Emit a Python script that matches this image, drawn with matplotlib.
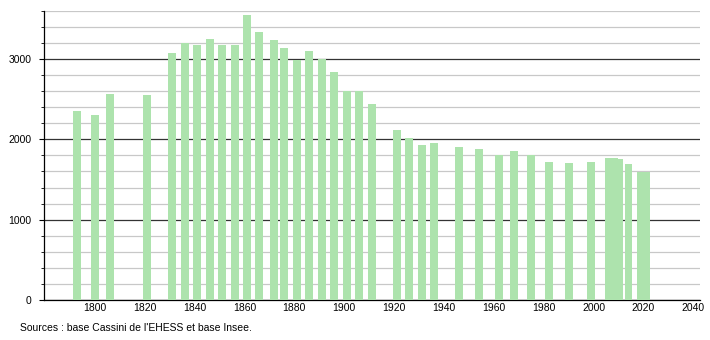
import matplotlib.pyplot as plt
from matplotlib.ticker import MultipleLocator

# census years and population
years = [1793, 1800, 1806, 1821, 1831, 1836, 1841, 1846, 1851, 1856,
         1861, 1866, 1872, 1876, 1881, 1886, 1891, 1896, 1901, 1906,
         1911, 1921, 1926, 1931, 1936, 1946, 1954, 1962, 1968, 1975,
         1982, 1990, 1999, 2006, 2008, 2010, 2014, 2019, 2021]
population = [2350, 2303, 2564, 2552, 3079, 3195, 3174, 3245, 3174, 3174,
              3548, 3340, 3237, 3141, 2988, 3100, 2996, 2838, 2602, 2602,
              2436, 2116, 2021, 1926, 1950, 1909, 1880, 1801, 1855, 1801,
              1718, 1705, 1718, 1765, 1770, 1755, 1693, 1597, 1597]

source = "Sources : base Cassini de l'EHESS et base Insee."

plt.rcParams['font.family'] = ['Liberation Sans', 'DejaVu Sans']

fig = plt.figure(figsize=(7.1, 3.4), dpi=100)
ax = fig.add_axes([0.062, 0.1176, 0.924, 0.8506])

ax.set_xlim(1779.6, 2042.7)
ax.set_ylim(0, 3600)

# grid: light every 200, dark every 1000
ax.yaxis.set_major_locator(MultipleLocator(1000))
ax.yaxis.set_minor_locator(MultipleLocator(200))
ax.grid(which='minor', axis='y', color='#c8c8c8', lw=0.9)
ax.grid(which='major', axis='y', color='#333333', lw=0.9)
ax.set_axisbelow(True)

ax.bar(years, population, width=3.2, color='#ade3ad', zorder=3)

ax.set_xticks(range(1800, 2041, 20))
ax.tick_params(axis='x', length=0, labelsize=7.5, pad=2.5)
ax.tick_params(axis='y', which='major', length=3.6, width=0.8, labelsize=7.5, pad=5.5)
ax.tick_params(axis='y', which='minor', length=2, width=0.6)

for s in ['top', 'right']:
    ax.spines[s].set_visible(False)
ax.spines['left'].set_linewidth(0.9)
ax.spines['bottom'].set_linewidth(0.9)

fig.text(20 / 710, 1 - 328 / 340, source, fontsize=7.5, va='center', ha='left')

fig.savefig('out.png', dpi=100)
